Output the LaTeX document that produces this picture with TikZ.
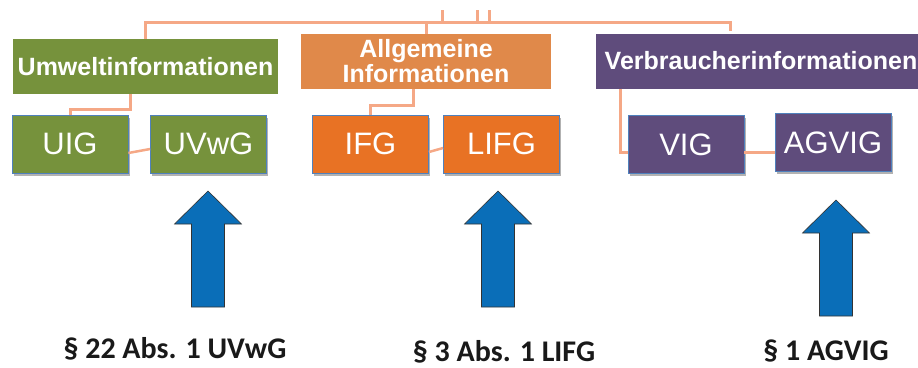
\documentclass[tikz,border=0pt]{standalone}
\usepackage{xcolor}
\usepackage{tikz}
\usepackage{fontspec}
\setmainfont{Liberation Sans}
\newfontfamily\calfont{Carlito}
\usetikzlibrary{
	positioning,
	shadows
}
\definecolor{umweltgreen}{HTML}{76923C}
\definecolor{allgorange}{HTML}{E0894A}
\definecolor{childorange}{HTML}{E87224}
\definecolor{verbpurple}{HTML}{5F4C7C}
\definecolor{linksalmon}{HTML}{F5A886}
\definecolor{arrowblue}{HTML}{0A6EB8}
\definecolor{boxblue}{HTML}{4F81BD}
\tikzset{
	x=1pt,
	y=-1pt,
	category/.style={
		rectangle,
		text=white,
		inner sep=0pt,
		minimum height=55pt,
		align=center,
		font=\fontsize{25}{25}\selectfont\bfseries
	},
	law/.style={
		rectangle,
		draw=boxblue,
		line width=0.8pt,
		text=white,
		minimum width=116pt,
		minimum height=58pt,
		font=\fontsize{31}{31}\selectfont,
		drop shadow={shadow xshift=1.5pt,shadow yshift=-2.5pt,opacity=.3,fill=black}
	},
	link/.style={
		draw=linksalmon,
		line width=3pt
	},
	blockarrow/.style={
		fill=arrowblue,
		draw=black!80,
		line width=0.6pt,
		line join=miter
	},
	norm/.style={
		anchor=base,
		text=black!90,
		font=\fontsize{30}{30}\selectfont\calfont\bfseries
	}
}

\begin{document}
\begin{tikzpicture}
	\useasboundingbox (0,0) rectangle (918,367);
	\draw
		node [category,fill=umweltgreen,minimum width=265pt] at (145.5,66.5) (umwelt) {Umweltinformationen}
		node [category,fill=allgorange,minimum width=250pt]  at (426,61.5)   (allgemein) {Allgemeine\\Informationen}
		node [category,fill=verbpurple,minimum width=330pt]  at (761,61)     (verbraucher) {Verbraucherinformationen}

		node [law,fill=umweltgreen] at (70,144)     (uig)   {UIG}
		node [law,fill=umweltgreen] at (208.5,144)  (uvwg)  {UVwG}
		node [law,fill=childorange] at (370.5,144)  (ifg)   {IFG}
		node [law,fill=childorange] at (501.5,144)  (lifg)  {LIFG}
		node [law,fill=verbpurple]  at (686,144.5)  (vig)   {VIG}
		node [law,fill=verbpurple]  at (833,142.5)  (agvig) {AGVIG}

		node [norm] at (175,358) (normuvwg)  {\S\ 22 Abs. 1 UVwG}
		node [norm] at (504,361) (normlifg)  {\S\ 3 Abs. 1 LIFG}
		node [norm] at (826,360) (normagvig) {\S\ 1 AGVIG}
	;

	\coordinate (bus)  at (0,22);
	\coordinate (busr) at (730,22);
	\draw[link] (umwelt.north) -- (umwelt.north |- bus) -- (busr) -- ++(0,9);
	\draw[link] (allgemein.north |- bus) -- ++(0,12);
	\foreach \s in {442,477,489}
		\draw[link] (\s,22) -- (\s,10);

	\draw[link] ([xshift=-15pt]umwelt.south) -- ++(0,15) -| (uig.north);
	\draw[link] ([xshift=-13pt]allgemein.south) -- ++(0,16) -| (ifg.north);
	\draw[link] ([xshift=25pt]verbraucher.south west) |- ([yshift=-8pt]vig.west);

	\draw[link,line width=2.5pt] ([yshift=-9pt]uig.east) -- ([yshift=-5pt]uvwg.west);
	\draw[link,line width=2.5pt] ([yshift=-8pt]ifg.east) -- ([yshift=-4pt]lifg.west);
	\draw[link] ([yshift=-8pt]vig.east) -- ([yshift=-10pt]agvig.west);

	\foreach \x/\tip/\bot in {208/191/307, 498/191/307, 836/200/316}
		\draw[blockarrow] (\x,\tip) -- ++(33.5,33) -- ++(-17,0) -- (\x+16.5,\bot)
			-- (\x-16.5,\bot) -- (\x-16.5,\tip+33) -- ++(-17,0) -- cycle;
\end{tikzpicture}
\end{document}
